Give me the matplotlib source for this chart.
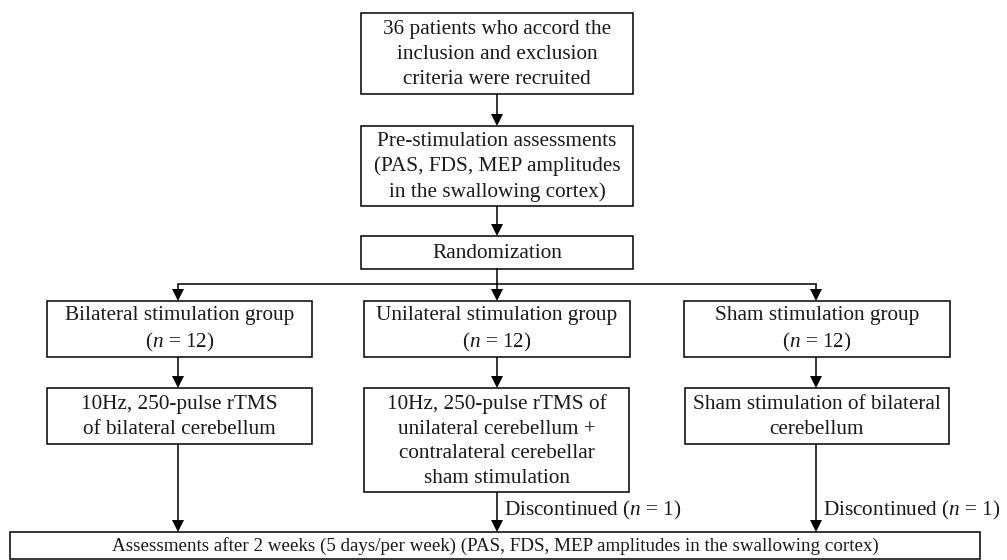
import matplotlib.pyplot as plt
from matplotlib.patches import Rectangle

plt.rcParams['font.family'] = ['Liberation Serif', 'DejaVu Serif']
plt.rcParams['mathtext.fontset'] = 'custom'
plt.rcParams['mathtext.rm'] = 'Liberation Serif'
plt.rcParams['mathtext.it'] = 'Liberation Serif:italic'

# texts of the flowchart
top_texts = ["36 patients who accord the\ninclusion and exclusion\ncriteria were recruited",
             "Pre-stimulation assessments\n(PAS, FDS, MEP amplitudes\nin the swallowing cortex)",
             "Randomization"]
group_texts = ["Bilateral stimulation group\n($n$ = 12)",
               "Unilateral stimulation group\n($n$ = 12)",
               "Sham stimulation group\n($n$ = 12)"]
treat_texts = ["10Hz, 250-pulse rTMS\nof bilateral cerebellum",
               "10Hz, 250-pulse rTMS of\nunilateral cerebellum +\ncontralateral cerebellar\nsham stimulation",
               "Sham stimulation of bilateral\ncerebellum"]
dropout_texts = [None, "Discontinued ($n$ = 1)", "Discontinued ($n$ = 1)"]
final_text = "Assessments after 2 weeks (5 days/per week) (PAS, FDS, MEP amplitudes in the swallowing cortex)"

# layout in pixels (x0, y0, x1, y1), y measured downwards
top_boxes = [(361, 13, 633, 94), (361, 126, 633, 206), (361, 236, 633, 269)]
col_x = [178, 497, 816]
group_boxes = [(47, 301, 312, 357), (364, 301, 630, 357), (684, 301, 950, 357)]
treat_boxes = [(47, 388, 312, 444), (364, 388, 629, 492), (685, 388, 949, 444)]
final_box = (10, 532, 980, 559)
branch_y = 284

fig = plt.figure(figsize=(10.07, 5.60), dpi=100)
ax = fig.add_axes([0, 0, 1, 1])
ax.set_xlim(0, 1007)
ax.set_ylim(560, 0)
ax.axis('off')

LW = 1.1
FS = 15.3


def box(b, text, fs=FS):
    x0, y0, x1, y1 = b
    ax.add_patch(Rectangle((x0, y0), x1 - x0, y1 - y0, fill=False, ec='black', lw=LW))
    ax.text((x0 + x1) / 2, (y0 + y1) / 2 + 1, text, ha='center', va='center',
            fontsize=fs, linespacing=1.4, color='#1a1a1a')


def arrow(x, y0, y1):
    ax.plot([x, x], [y0, y1 - 10], color='black', lw=LW, solid_capstyle='butt')
    ax.fill([x - 6, x + 6, x], [y1 - 12, y1 - 12, y1], color='black', lw=0)


for b, t in zip(top_boxes, top_texts):
    box(b, t)
arrow(497, top_boxes[0][3], top_boxes[1][1])
arrow(497, top_boxes[1][3], top_boxes[2][1])

# randomization branch
ax.plot([497, 497], [top_boxes[2][3], branch_y], color='black', lw=LW)
ax.plot([col_x[0], col_x[-1]], [branch_y, branch_y], color='black', lw=LW)
for i, x in enumerate(col_x):
    arrow(x, branch_y, group_boxes[i][1])
    box(group_boxes[i], group_texts[i])
    arrow(x, group_boxes[i][3], treat_boxes[i][1])
    box(treat_boxes[i], treat_texts[i])
    arrow(x, treat_boxes[i][3], final_box[1])
    if dropout_texts[i]:
        ax.text(x + 7, 510, dropout_texts[i], ha='left', va='center',
                fontsize=FS, color='#1a1a1a')

box(final_box, final_text, fs=13.7)

fig.savefig("out.png", dpi=100)
